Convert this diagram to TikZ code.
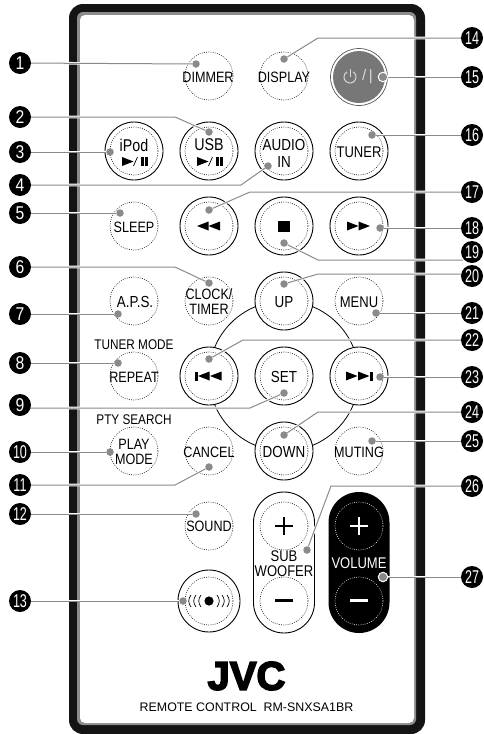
\documentclass[tikz,border=0pt]{standalone}
\usepackage{fontspec}
\setmainfont{Liberation Sans}
\newfontfamily\labf[FakeStretch=0.84]{Liberation Sans}
\newfontfamily\numf[FakeStretch=0.85]{Liberation Sans}
\newfontfamily\numg[FakeStretch=0.68]{Liberation Sans}
\newfontfamily\logof[FakeBold=4,FakeStretch=1.0]{Liberation Sans Bold}
\definecolor{lead}{HTML}{8A8A8A}
\definecolor{pow}{HTML}{777777}
\pgfdeclarelayer{top}
\pgfsetlayers{main,top}
\tikzset{
  x=1pt,y=-1pt,
  dotsty/.style={dash pattern=on .9pt off 1.3pt,line width=.6pt},
  dotbtn/.style={circle,draw=black!85,dotsty,fill=white,minimum size=48pt,inner sep=0pt},
  dotinner/.style={circle,draw=black!85,dotsty,minimum size=48pt,inner sep=0pt},
  dotinv/.style={circle,draw=white!85!black,dotsty,minimum size=48pt,inner sep=0pt},
  solbtn/.style={circle,draw=black,line width=.9pt,fill=white,minimum size=58pt,inner sep=0pt},
  fs/.style={font=\labf\fontsize{#1}{#1}\selectfont,inner sep=0pt,text=black},
  badge/.style={circle,fill=black,minimum size=22pt,inner sep=0pt,text=white,font=\numf\fontsize{18.5}{18.5}\selectfont},
  badgew/.style={circle,fill=black,minimum size=22pt,inner sep=0pt,text=white,font=\numg\fontsize{18.5}{18.5}\selectfont},
  tip/.style={circle,fill=lead,minimum size=7.5pt,inner sep=0pt},
  tipw/.style={circle,fill=lead,draw=white,line width=1pt,minimum size=9.5pt,inner sep=0pt},
  halo/.style={draw=white,line width=2.6pt},
  leader/.style={draw=lead,line width=1pt},
  ic/.style={fill=black,draw=none},
}
\newcommand\tl[2]{\fill[ic] (#1,#2-4.5) -- (#1,#2+4.5) -- (#1-11.5,#2) -- cycle;}
\newcommand\tr[2]{\fill[ic] (#1,#2-4.5) -- (#1,#2+4.5) -- (#1+11.5,#2) -- cycle;}
\newcommand\playpause[2]{\tr{#1-12}{#2}\draw[line width=.7pt] (#1-.5,#2+4.5) -- (#1+3.5,#2-4.5);
  \fill[ic] (#1+7,#2-4.5) rectangle +(2.8,9);\fill[ic] (#1+10.8,#2-4.5) rectangle +(2.8,9);}
\newcommand\lead[1]{\draw[halo] #1;\draw[leader] #1;}
\begin{document}
\begin{tikzpicture}
\useasboundingbox (0,0) rectangle (483,734);
\fill[white] (0,0) rectangle (483,734);
% body
\fill[black!92,rounded corners=14pt] (69,4) rectangle (425,734);
\fill[black!45,rounded corners=6pt] (77,12) rectangle (416,725);
\fill[white,rounded corners=5pt] (80,15) rectangle (414,723);
% ring
\draw[line width=.8pt] (284,376) circle[radius=75];
% round buttons
\foreach \n/\x/\y in {dimmer/209/76,display/284/76,sleep/134/226,aps/134/301,clock/209/301,menu/359/301,repeat/134/376,play/134/451,cancel/209/451,muting/359/451,sound/209/526}
  \node[dotbtn] (\n) at (\x,\y) {};
\foreach \n/\x/\y in {ipod/134/151,usb/209/151,audio/284/151,tuner/359/151,rew/209/226,stopb/284/226,ffw/359/226,up/284/301,prev/209/376,set/284/376,next/359/376,down/284/451}{
  \node[solbtn] (\n) at (\x,\y) {};
  \node[dotinner] (\n i) at (\x,\y) {};
}
\node[solbtn,minimum size=62pt] (ir) at (209,601) {};
\node[dotinner] (ir i) at (209,601) {};
% power
\node[circle,draw=black!65,line width=.7pt,fill=white,minimum size=57pt,inner sep=0pt] (power) at (359,77) {};
\node[circle,fill=pow,minimum size=52pt,inner sep=0pt] (power i) at (359,77) {};
\draw[white!85!black,line width=1pt] (350,77) ++(-60:6) arc[start angle=-60,end angle=240,radius=6];
\draw[white!85!black,line width=1pt] (350,69) -- (350,77);
\node[font=\fontsize{15}{15}\selectfont,text=white!85!black,inner sep=0pt] (powtxt) at (367.5,77) {/\,|};
% pills
\draw[line width=.9pt,fill=white] (253.5,522.5) arc[start angle=180,end angle=360,radius=30.5] -- (314.5,602.5) arc[start angle=0,end angle=180,radius=30.5] -- cycle;
\fill[black] (328.5,522.5) arc[start angle=180,end angle=360,radius=30.5] -- (389.5,602.5) arc[start angle=0,end angle=180,radius=30.5] -- cycle;
\node[dotinner] (swp) at (284,526) {};
\node[dotinner] (swm) at (284,601) {};
\node[dotinv] (vop) at (359,526) {};
\node[dotinv] (vom) at (359,601) {};
\draw[line width=2.1pt] (275,526) -- (293,526) (284,517) -- (284,535) (275,600.5) -- (293,600.5);
\draw[white,line width=2.1pt] (350,526) -- (368,526) (359,517) -- (359,535) (350,600.5) -- (368,600.5);
% icons
\playpause{134}{161.5}\playpause{209}{161.5}
\tl{208.5}{226}\tl{220}{226}
\fill[ic] (277.5,220.5) rectangle (289.5,232);
\tr{347}{226}\tr{358.5}{226}
\fill[ic] (195,371.5) rectangle (198,380.5);\tl{209.5}{376}\tl{221.5}{376}
\tr{346}{376}\tr{358}{376}\fill[ic] (369.7,371.5) rectangle (372.7,380.5);
\fill[ic] (209,601) circle[radius=4.6];
\foreach \o in {10,15,20}{
  \draw[line width=.7pt] (209+\o-2,595) .. controls (209+\o+1,599) and (209+\o+1,603) .. (209+\o-2,607);
  \draw[line width=.7pt] (209-\o+2,595) .. controls (209-\o-1,599) and (209-\o-1,603) .. (209-\o+2,607);
}
% texts
\node[fs=15] (t1) at (208,77) {DIMMER};
\node[fs=15] (t2) at (284,77) {DISPLAY};
\node[fs=17] (t3) at (134,145) {iPod};
\node[fs=17] (t4) at (209,145) {USB};
\node[fs=16] (t5) at (284,145) {AUDIO};
\node[fs=16] (t6) at (284,162) {IN};
\node[fs=15.5] (t7) at (359,152) {TUNER};
\node[fs=15] (t8) at (134,227) {SLEEP};
\node[fs=16] (t9) at (135,302) {A.P.S.};
\node[fs=15] (t10) at (209,294) {CLOCK/};
\node[fs=15] (t11) at (209,309) {TIMER};
\node[fs=16] (t12) at (284,302) {UP};
\node[fs=15.5] (t13) at (359,302) {MENU};
\node[fs=14] (t14) at (134,345) {TUNER MODE};
\node[fs=15] (t15) at (134,377) {REPEAT};
\node[fs=16] (t16) at (284,377) {SET};
\node[fs=14] (t17) at (134,420) {PTY SEARCH};
\node[fs=15] (t18) at (134,444) {PLAY};
\node[fs=15] (t19) at (134,459) {MODE};
\node[fs=15] (t20) at (209,452) {CANCEL};
\node[fs=16] (t21) at (284,452) {DOWN};
\node[fs=15] (t22) at (359,452) {MUTING};
\node[fs=15] (t23) at (209,526) {SOUND};
\node[fs=15.5] (t24) at (284,556) {SUB};
\node[fs=15.5] (t25) at (284,571) {WOOFER};
\node[fs=15.5,text=white] (t26) at (359,563) {VOLUME};
\node[font=\logof\fontsize{40}{40}\selectfont,inner sep=0pt] (logo) at (246.5,676) {JVC};
\node[font=\fontsize{12.4}{12.4}\selectfont,inner sep=0pt] (model) at (246.5,707) {REMOTE CONTROL\ \ RM-SNXSA1BR};
\begin{pgfonlayer}{top}
% badges
\foreach \i/\y in {1/63,2/117,3/152,4/185,5/213,6/267,7/314,8/363,9/405}
  \node[badge] (b\i) at (20,\y) {\i};
\foreach \i/\y in {10/452,11/485,12/514,13/601}
  \node[badgew] (b\i) at (20,\y) {\i};
\foreach \i/\y in {14/38,15/77,16/135,17/192,18/228,19/252,20/276,21/313,22/340,23/377,24/412,25/441,26/486,27/577}
  \node[badgew] (b\i) at (472,\y) {\i};
% tips
\foreach \i/\x/\y in {1/196/64,2/209/132,3/110/152,4/268/166,5/120/213,6/209/283,7/118/314,8/118/363,9/284/393,10/110/452,11/209/467,12/196/514,13/183/601,14/284/59,16/372/135,17/209/210,18/380/228,19/284/243,20/284/284,21/376/313,22/209/359,23/380/377,24/284/435,25/372/441,26/307/550}
  \node[tip] (d\i) at (\x,\y) {};
\node[tipw] (d15) at (383,77) {};
\node[tipw] (d27) at (383,577) {};
\end{pgfonlayer}
% connectors
\coordinate (j19) at (463,260);
\coordinate (j9) at (29,408);
\lead{(b1) -- (d1)}
\lead{(b2) -- (175,117) -- (d2)}
\lead{(b3) -- (d3)}
\lead{(b4) -- (241,185) -- (d4)}
\lead{(b5) -- (d5)}
\lead{(b6) -- (175,267) -- (d6)}
\lead{(b7) -- (d7)}
\lead{(b8) -- (d8)}
\lead{(j9) -- (250,408) -- (d9)}
\lead{(b10) -- (d10)}
\lead{(b11) -- (175,485) -- (d11)}
\lead{(b12) -- (d12)}
\lead{(b13) -- (d13)}
\lead{(b14) -- (318,38) -- (d14)}
\lead{(b15) -- (d15)}
\lead{(b16) -- (d16)}
\lead{(b17) -- (250,192) -- (d17)}
\lead{(b18) -- (d18)}
\lead{(j19) -- (318,260) -- (d19)}
\lead{(b20) -- (461,274) -- (318,274) -- (d20)}
\lead{(b21) -- (d21)}
\lead{(b22) -- (243,340) -- (d22)}
\lead{(b23) -- (d23)}
\lead{(b24) -- (318,412) -- (d24)}
\lead{(b25) -- (d25)}
\lead{(b26) -- (331,486) -- (d26)}
\lead{(b27) -- (d27)}
\end{tikzpicture}
\end{document}
